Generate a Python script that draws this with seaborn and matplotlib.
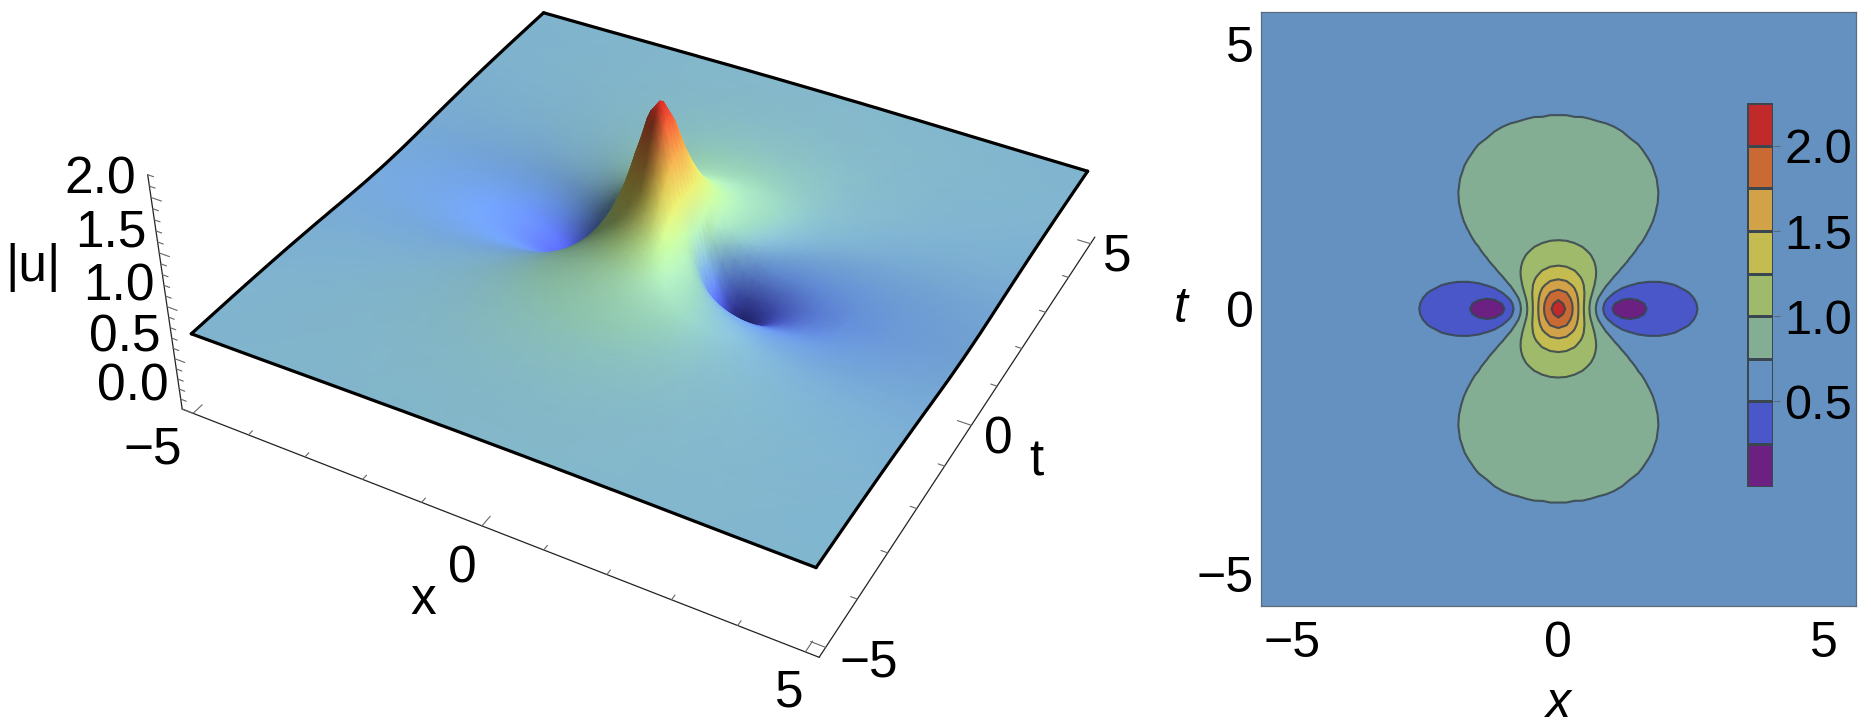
import numpy as np, matplotlib
matplotlib.use('Agg')
import matplotlib.pyplot as plt
import seaborn as sns
from matplotlib.colors import ListedColormap, LinearSegmentedColormap

# |u| estimated for the quadrant x>=0, t>=0 (the picture is mirror symmetric in x and t)
x_quadrant = [0, .15, .3, .45, .6, .75, .9, 1.05, 1.2, 1.35, 1.5, 1.7, 1.9, 2.05, 2.2, 2.4, 2.6, 3.1, 3.8, 5, 5.6]
t_quadrant = [0, .1, .2, .3, .45, .6, .7, .8, .9, 1, 1.1, 1.25, 1.35, 1.5, 1.65, 1.8, 2, 2.2, 2.45, 2.7, 3, 3.3, 3.65, 4, 5, 5.6]
u_t000 = [2.100,1.985,1.691,1.321,0.962,0.653,0.402,0.204,0.049,0.073,0.170,0.269,0.344,0.389,0.426,0.466,0.498,0.555,0.602,0.642,0.654]
u_t010 = [2.064,1.956,1.677,1.324,0.979,0.681,0.442,0.262,0.154,0.147,0.203,0.285,0.353,0.395,0.430,0.469,0.500,0.556,0.602,0.642,0.654]
u_t020 = [1.967,1.875,1.636,1.327,1.018,0.749,0.534,0.379,0.288,0.260,0.277,0.326,0.378,0.413,0.443,0.478,0.507,0.559,0.603,0.643,0.654]
u_t030 = [1.836,1.765,1.574,1.321,1.060,0.826,0.637,0.498,0.410,0.368,0.361,0.381,0.414,0.439,0.463,0.492,0.517,0.564,0.606,0.644,0.655]
u_t045 = [1.630,1.584,1.458,1.284,1.095,0.916,0.764,0.645,0.560,0.507,0.478,0.468,0.476,0.488,0.501,0.520,0.537,0.575,0.610,0.645,0.656]
u_t060 = [1.448,1.419,1.340,1.224,1.093,0.962,0.844,0.745,0.668,0.612,0.575,0.548,0.538,0.539,0.543,0.551,0.562,0.588,0.617,0.647,0.657]
u_t070 = [1.347,1.326,1.267,1.180,1.078,0.973,0.874,0.789,0.719,0.665,0.626,0.592,0.576,0.571,0.570,0.573,0.579,0.597,0.621,0.649,0.658]
u_t080 = [1.261,1.246,1.202,1.136,1.056,0.972,0.891,0.818,0.756,0.705,0.666,0.630,0.609,0.600,0.595,0.594,0.596,0.607,0.627,0.651,0.660]
u_t090 = [1.189,1.178,1.144,1.094,1.032,0.965,0.898,0.836,0.781,0.736,0.698,0.662,0.638,0.626,0.618,0.613,0.612,0.618,0.632,0.653,0.661]
u_t100 = [1.129,1.120,1.094,1.055,1.007,0.953,0.898,0.846,0.799,0.757,0.723,0.687,0.662,0.648,0.639,0.631,0.627,0.628,0.638,0.655,0.662]
u_t110 = [1.078,1.071,1.051,1.021,0.982,0.939,0.894,0.850,0.809,0.773,0.741,0.707,0.682,0.668,0.657,0.647,0.641,0.637,0.643,0.658,0.664]
u_t125 = [1.015,1.011,0.997,0.975,0.948,0.916,0.883,0.849,0.817,0.787,0.760,0.730,0.705,0.691,0.679,0.668,0.660,0.651,0.651,0.661,0.666]
u_t135 = [0.981,0.978,0.967,0.950,0.927,0.902,0.874,0.846,0.818,0.792,0.768,0.740,0.717,0.703,0.692,0.680,0.671,0.659,0.657,0.664,0.668]
u_t150 = [0.939,0.936,0.929,0.916,0.900,0.881,0.860,0.838,0.816,0.794,0.775,0.751,0.730,0.717,0.706,0.694,0.685,0.670,0.664,0.668,0.671]
u_t165 = [0.905,0.903,0.898,0.888,0.876,0.862,0.846,0.828,0.811,0.794,0.777,0.757,0.739,0.727,0.717,0.705,0.696,0.680,0.671,0.671,0.673]
u_t180 = [0.878,0.876,0.872,0.865,0.856,0.845,0.832,0.819,0.805,0.791,0.777,0.760,0.744,0.734,0.724,0.713,0.704,0.688,0.678,0.675,0.676]
u_t200 = [0.849,0.848,0.845,0.840,0.833,0.825,0.816,0.806,0.796,0.785,0.775,0.761,0.748,0.739,0.731,0.721,0.713,0.697,0.685,0.679,0.679]
u_t220 = [0.826,0.825,0.823,0.820,0.815,0.809,0.802,0.795,0.787,0.779,0.771,0.760,0.749,0.742,0.735,0.726,0.719,0.704,0.691,0.683,0.683]
u_t245 = [0.804,0.804,0.802,0.800,0.797,0.792,0.788,0.782,0.777,0.771,0.765,0.756,0.748,0.742,0.737,0.730,0.723,0.710,0.697,0.688,0.686]
u_t270 = [0.787,0.787,0.786,0.784,0.782,0.779,0.776,0.772,0.768,0.763,0.759,0.752,0.746,0.741,0.737,0.731,0.726,0.714,0.702,0.692,0.690]
u_t300 = [0.772,0.772,0.771,0.770,0.768,0.766,0.764,0.761,0.758,0.755,0.752,0.747,0.743,0.739,0.736,0.731,0.727,0.717,0.706,0.696,0.693]
u_t330 = [0.760,0.760,0.760,0.759,0.758,0.756,0.755,0.753,0.751,0.748,0.746,0.742,0.739,0.736,0.733,0.730,0.726,0.718,0.709,0.699,0.696]
u_t365 = [0.750,0.750,0.749,0.749,0.748,0.747,0.746,0.745,0.743,0.741,0.740,0.737,0.735,0.733,0.731,0.728,0.725,0.719,0.711,0.702,0.699]
u_t400 = [0.742,0.742,0.742,0.741,0.741,0.740,0.739,0.738,0.737,0.736,0.735,0.733,0.731,0.729,0.728,0.726,0.724,0.719,0.712,0.704,0.701]
u_t500 = [0.727,0.727,0.727,0.727,0.727,0.726,0.726,0.726,0.725,0.725,0.724,0.723,0.722,0.722,0.721,0.720,0.719,0.716,0.712,0.707,0.704]
u_t560 = [0.722,0.722,0.722,0.722,0.721,0.721,0.721,0.721,0.720,0.720,0.720,0.719,0.719,0.718,0.718,0.717,0.716,0.714,0.712,0.707,0.705]
contour_levels = [0, .25, .5, .75, 1, 1.25, 1.5, 1.75, 2, 2.25]
level_colors = ['#6b2082', '#4a57c9', '#6591c0', '#84ae94', '#a0ba6c', '#c4bc50', '#d2a248', '#c96a35', '#c02a2a']
bar_ticks = ['2.0', '1.5', '1.0', '0.5']
surface_stops = [(0, '#2a2a90'), (.3, '#5560ff'), (.55, '#6d9cf0'), (.64, '#74a5d8'), (.70, '#80b4d0'),
                 (.74, '#85b9c8'), (.82, '#92cab4'), (.95, '#a8e0b4'), (1.1, '#bcec98'), (1.3, '#d8e070'),
                 (1.5, '#e2c850'), (1.7, '#e29a48'), (1.9, '#e26838'), (2.1, '#e22c28')]

W, H = 1871, 728
sns.set_theme(style='white', font='Liberation Sans')
fig = plt.figure(figsize=(W / 100, H / 100), dpi=100)

q = np.array([u_t000, u_t010, u_t020, u_t030, u_t045, u_t060, u_t070, u_t080, u_t090, u_t100, u_t110, u_t125, u_t135,
              u_t150, u_t165, u_t180, u_t200, u_t220, u_t245, u_t270, u_t300, u_t330, u_t365, u_t400, u_t500, u_t560])
qx, qt = np.array(x_quadrant), np.array(t_quadrant)
x_all = np.r_[-qx[:0:-1], qx]
t_all = np.r_[-qt[:0:-1], qt]
Z = np.hstack([q[:, :0:-1], q])
Z = np.vstack([Z[:0:-1], Z])

# ---------- left: surface seen through a camera fitted to the picture ----------
anchors3 = [(-5, -5, .7), (5, -5, .7), (5, 5, .7), (-5, 5, .7), (-5.2, -5.2, 0), (5.2, -5.2, 0),
            (5.2, 5.2, 0), (-5.2, -5.2, 2), (0, 0, 2.1)]
anchors2 = [(190.7, 331), (816.7, 566), (1088, 169.5), (544, 13), (182.7, 410), (819, 659),
            (1094, 240), (150.7, 200.7), (660, 101)]
rows = []
for (a, b, c), (u, v) in zip(anchors3, anchors2):
    u, v = u / 1000, v / 1000
    rows.append([a, b, c, 1, 0, 0, 0, 0, -u * a, -u * b, -u * c, -u])
    rows.append([0, 0, 0, 0, a, b, c, 1, -v * a, -v * b, -v * c, -v])
P = np.linalg.svd(np.array(rows))[2][-1].reshape(3, 4)
P[:2] *= 1000


def project(x, t, z):
    x, t, z = np.broadcast_arrays(np.asarray(x, float), np.asarray(t, float), np.asarray(z, float))
    pts = np.stack([x, t, z, np.ones_like(x)], axis=-1)
    w = pts @ P[2]
    return pts @ P[0] / w, pts @ P[1] / w


canvas = fig.add_axes([0, 0, 1, 1])
canvas.set_xlim(0, W)
canvas.set_ylim(H, 0)
canvas.set_axis_off()

ix = np.abs(x_all) <= 5
it = np.abs(t_all) <= 5
xs3, ts3 = x_all[ix], t_all[it][::-1]          # far rows first, so nearer cells paint over farther ones
Z3 = Z[np.ix_(it, ix)][::-1]
XX, TT = np.meshgrid(xs3, ts3)
cmap3 = LinearSegmentedColormap.from_list('rb', [(s[0] / 2.1, s[1]) for s in surface_stops], N=512)
rgba = cmap3(Z3 / 2.1)
dz_t, dz_x = np.gradient(Z3, ts3, xs3)
L = np.array([.6, .2, .75])
L = L / np.linalg.norm(L)
nrm = np.sqrt(1 + dz_x**2 + dz_t**2)
shade = np.clip((-dz_x * L[0] - dz_t * L[1] + L[2]) / nrm / L[2], .45, 1.1)
rgba[..., :3] = np.clip(rgba[..., :3] * shade[..., None], 0, 1)
U, V = project(XX, TT, Z3)
canvas.pcolormesh(U, V, rgba, shading='gouraud', zorder=2)

edge = dict(color='black', lw=2.3, zorder=3, solid_capstyle='round')
canvas.plot(U[0], V[0], **edge)
canvas.plot(U[-1], V[-1], **edge)
canvas.plot(U[:, 0], V[:, 0], **edge)
canvas.plot(U[:, -1], V[:, -1], **edge)

axis_kw = dict(color='#222222', lw=.9, zorder=1)
tick_kw = dict(color='#666666', lw=.8, zorder=1)
pad, zmax = 5.2, 2.2
canvas.plot(*project([-pad, pad], -pad, 0), **axis_kw)
canvas.plot(*project(pad, [-pad, pad], 0), **axis_kw)
canvas.plot(*project(-pad, -pad, [0, zmax]), **axis_kw)
for v in range(-5, 6):
    ln = .22 if v % 5 == 0 else .1
    canvas.plot(*project(v, [-pad, -pad + ln], 0), **tick_kw)
    canvas.plot(*project([pad, pad - ln], v, 0), **tick_kw)
for k in range(0, 23):
    ln = .18 if k % 5 == 0 else .1
    canvas.plot(*project([-pad, -pad + ln], -pad, k / 10), **tick_kw)


def label(px, py, s, size=37, **kw):
    fig.text(px / W, 1 - py / H, s, fontsize=size, ha='center', va='center', color='black', **kw)


for px, py, s in [(100, 180, '2.0'), (111, 233, '1.5'), (119, 287, '1.0'), (125, 338, '0.5'), (133, 387, '0.0'),
                  (33, 268, '|u|'), (153, 450, '\u22125'), (462, 569, '0'), (423, 600, 'x'), (789, 693, '5'),
                  (869, 663, '\u22125'), (998, 440, '0'), (1036, 462, 't'), (1117, 257, '5')]:
    label(px, py, s)

# ---------- right: contour plot ----------
L0, R0, T0, B0 = 1260.7, 1856, 11.7, 606
ax2 = fig.add_axes([L0 / W, 1 - B0 / H, (R0 - L0) / W, (B0 - T0) / H])
ax2.contourf(x_all, t_all, Z, levels=contour_levels, colors=level_colors, antialiased=True)
ax2.contour(x_all, t_all, Z, levels=contour_levels[1:-1], colors='#35424a', linewidths=1.5, alpha=.85)
ax2.set_xlim(-5.6, 5.6)
ax2.set_ylim(-5.6, 5.6)
ax2.set_xticks([-5, 0, 5])
ax2.set_yticks([-5, 0, 5])
ax2.tick_params(which='both', direction='in', length=3, width=.6, color='#55606a', top=True, right=True,
                labelsize=36, labelcolor='black')
ax2.tick_params(axis='x', pad=11)
ax2.tick_params(axis='y', pad=5)
for s in ax2.spines.values():
    s.set_color('#5d6b7c')
    s.set_linewidth(.9)
label(1559, 704, 'x', size=36, style='italic')
label(1180.7, 309, 't', size=36, style='italic')

cax = fig.add_axes([1747.3 / W, 1 - 486.7 / H, 26 / W, 383.4 / H])
mids = (np.array(contour_levels[:-1]) + np.array(contour_levels[1:])) / 2
sns.heatmap(mids[::-1][:, None], ax=cax, cmap=ListedColormap(level_colors), vmin=0, vmax=2.25, cbar=False,
            linewidths=1, linecolor='#3a4650', xticklabels=False)
cax.set_yticks([1, 3, 5, 7])
cax.set_yticklabels(bar_ticks, rotation=0)
cax.tick_params(axis='y', left=False, right=True, labelleft=False, labelright=True, labelsize=35, length=5,
                width=.6, color='#55606a', pad=3, labelcolor='black')
fig.savefig('out.png', dpi=100)
